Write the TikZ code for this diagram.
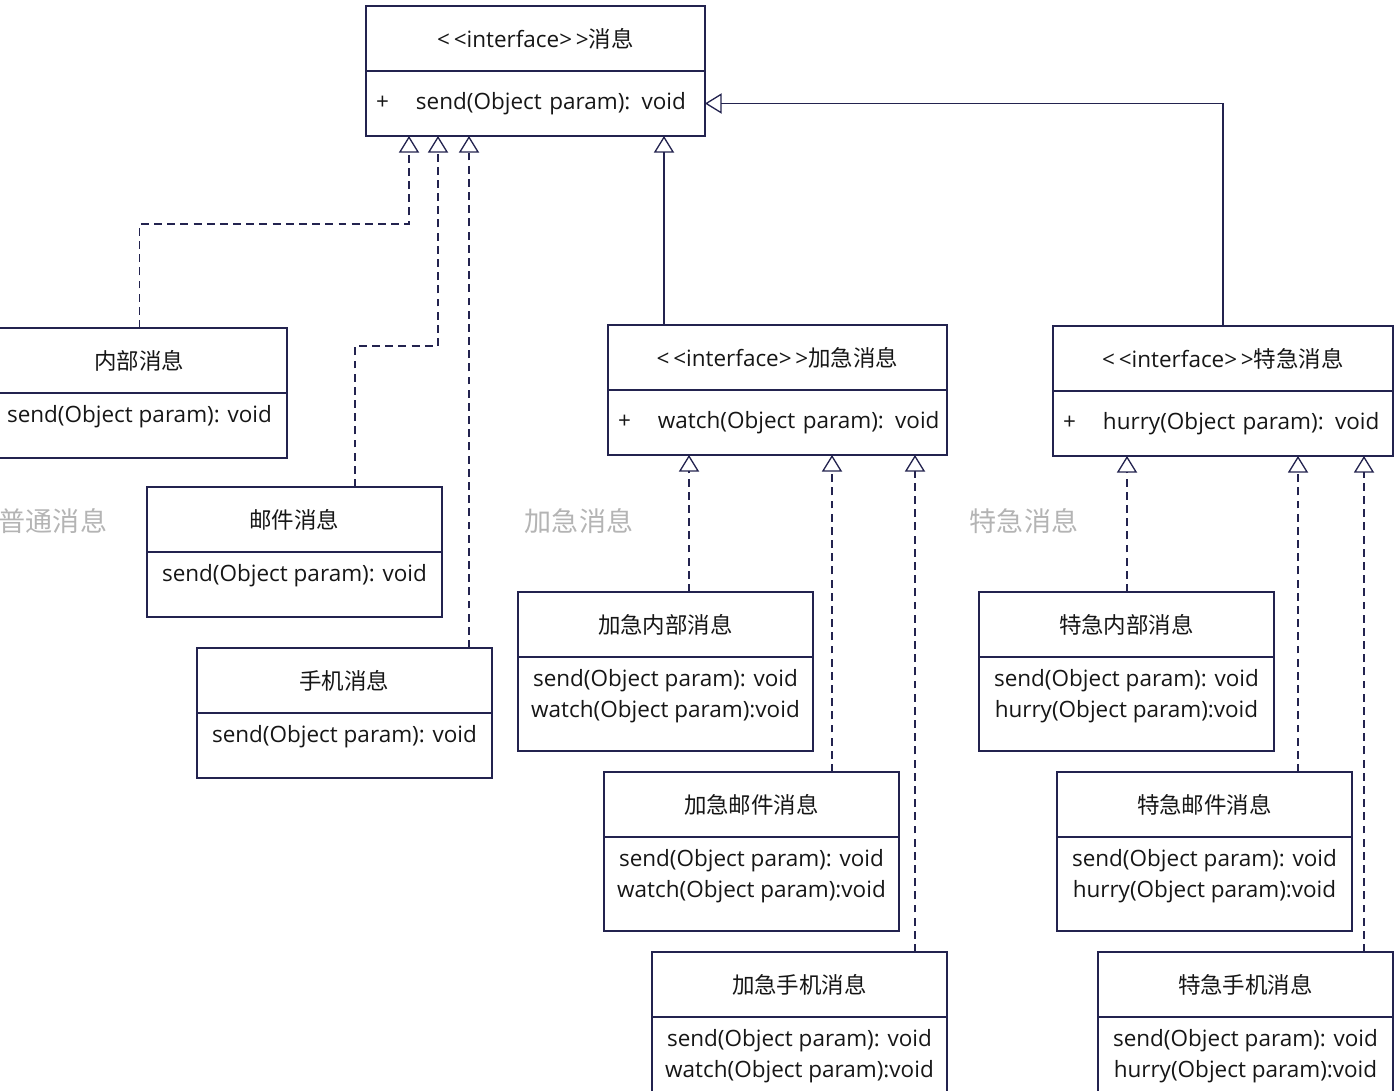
\documentclass[tikz,border=0pt]{standalone}
\usepackage{fontspec}
\setmainfont{Open Sans}
\newfontfamily\cjk{Noto Sans CJK SC}
\usetikzlibrary{positioning, arrows.meta, calc}
\definecolor{edge}{HTML}{23234F}
\definecolor{textmain}{HTML}{161616}
\definecolor{textdim}{HTML}{B4B4B4}
\newcommand\pubmark{\hspace*{0.2cm}\makebox[0.8cm][l]{+}}

\begin{document}
\begin{tikzpicture}[x=0.02cm, y=-0.02cm,
    head/.style={rectangle, draw=edge, line width=0.75pt, text=textmain,
                 minimum width=5.9cm, minimum height=1.3cm, inner sep=0pt,
                 outer sep=0pt, anchor=north west,
                 font=\fontsize{12.8}{17.6}\selectfont},
    ibody/.style={head, align=left, text width=#1, text height=0.78cm, text depth=0.52cm},
    cbody/.style={head, anchor=north, align=center, inner ysep=0pt,
                  text height=0.59cm, text depth=0.71cm},
    dbody/.style={cbody, text height=1.21cm, text depth=0.67cm},
    impl/.style={-{Triangle[open, length=9.5pt, width=11.5pt]}, draw=edge,
                 line width=0.75pt, dash pattern=on 4.5pt off 3pt},
    real/.style={impl, solid},
    group/.style={text=textdim, font=\fontsize{15.4}{18}\selectfont\cjk}
  ]
    \useasboundingbox (0,0) rectangle (1400,1090);
    \clip (0,0) rectangle (1400,1090);

    % interfaces
    \node[head, minimum width=6.78cm] (msg) at (366,6) {<\,<interface>\,>{\cjk 消息}};
    \node[ibody=6.78cm] (msgB) at (msg.south west) {\pubmark send(Object param): void};
    \node[head, minimum width=6.78cm] (jia) at (608,325) {<\,<interface>\,>{\cjk 加急消息}};
    \node[ibody=6.78cm] (jiaB) at (jia.south west) {\pubmark watch(Object param): void};
    \node[head, minimum width=6.8cm] (te) at (1053,326) {<\,<interface>\,>{\cjk 特急消息}};
    \node[ibody=6.8cm] (teB) at (te.south west) {\pubmark hurry(Object param): void};

    % plain messages
    \node[head] (inn) at (-8,328) {\cjk 内部消息};
    \node[cbody] (innB) at (inn.south) {send(Object param): void};
    \node[head] (mail) at (147,487) {\cjk 邮件消息};
    \node[cbody] (mailB) at (mail.south) {send(Object param): void};
    \node[head] (phone) at (197,648) {\cjk 手机消息};
    \node[cbody] (phoneB) at (phone.south) {send(Object param): void};

    % urgent messages
    \node[head] (jinn) at (518,592) {\cjk 加急内部消息};
    \node[dbody] (jinnB) at (jinn.south) {send(Object param): void\\watch(Object param):void};
    \node[head] (jmail) at (604,772) {\cjk 加急邮件消息};
    \node[dbody] (jmailB) at (jmail.south) {send(Object param): void\\watch(Object param):void};
    \node[head] (jphone) at (652,952) {\cjk 加急手机消息};
    \node[dbody] (jphoneB) at (jphone.south) {send(Object param): void\\watch(Object param):void};

    % express messages
    \node[head] (tinn) at (979,592) {\cjk 特急内部消息};
    \node[dbody] (tinnB) at (tinn.south) {send(Object param): void\\hurry(Object param):void};
    \node[head] (tmail) at (1057,772) {\cjk 特急邮件消息};
    \node[dbody] (tmailB) at (tmail.south) {send(Object param): void\\hurry(Object param):void};
    \node[head] (tphone) at (1098,952) {\cjk 特急手机消息};
    \node[dbody] (tphoneB) at (tphone.south) {send(Object param): void\\hurry(Object param):void};

    % group labels
    \node[group] (g1) at (53,521) {普通消息};
    \node[group] (g2) at (579,521) {加急消息};
    \node[group] (g3) at (1024,521) {特急消息};

    % arrow tips
    \coordinate (a1) at ($(msgB.south west)+(43,0)$);
    \coordinate (a2) at ($(msgB.south west)+(72,0)$);
    \coordinate (a3) at ($(msgB.south west)+(103,0)$);
    \coordinate (a4) at ($(msgB.south west)+(298,0)$);
    \coordinate (b1) at ($(jiaB.south west)+(81,0)$);
    \coordinate (b2) at ($(jiaB.south west)+(224,0)$);
    \coordinate (b3) at ($(jiaB.south west)+(307,0)$);
    \coordinate (c1) at ($(teB.south west)+(74,0)$);
    \coordinate (c2) at ($(teB.south west)+(245,0)$);
    \coordinate (c3) at ($(teB.south west)+(311,0)$);

    \draw[impl] (inn.north) -- ++(0,-104) -| (a1);
    \draw[impl] ($(mail.north west)+(208,0)$) -- ++(0,-141) -| (a2);
    \draw[impl] (a3 |- phone.north) -- (a3);
    \draw[real] (a4 |- jia.north) -- (a4);
    \draw[real] (te.north) |- (msgB.east);

    \draw[impl] (b1 |- jinn.north) -- (b1);
    \draw[impl] (b2 |- jmail.north) -- (b2);
    \draw[impl] (b3 |- jphone.north) -- (b3);
    \draw[impl] (c1 |- tinn.north) -- (c1);
    \draw[impl] (c2 |- tmail.north) -- (c2);
    \draw[impl] (c3 |- tphone.north) -- (c3);
  \end{tikzpicture}
\end{document}
